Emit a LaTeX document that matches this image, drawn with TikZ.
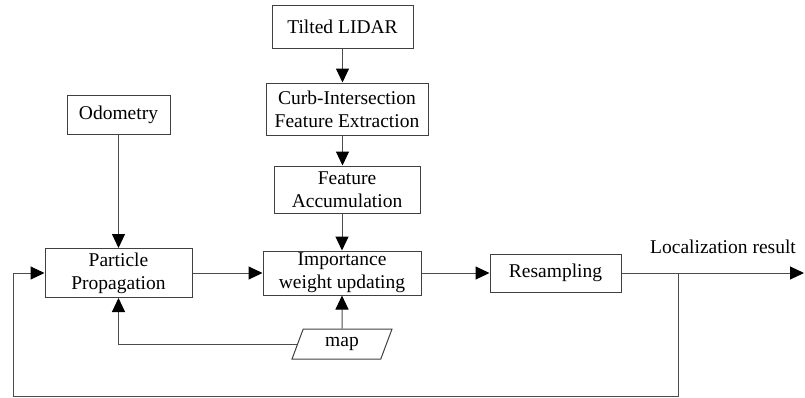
\documentclass[tikz,border=0pt]{standalone}
\usepackage{fontspec}
\setmainfont{Liberation Serif}
\usetikzlibrary{arrows.meta,shapes.geometric}
\begin{document}
\begin{tikzpicture}[x=1pt,y=-1pt,
  box/.style={draw=black!75,line width=1pt,align=center,inner sep=0pt,font=\fontsize{19.5}{23}\selectfont},
  conn/.style={draw=black!70,line width=1pt},
  arr/.style={conn,-{Triangle[length=14pt,width=13pt,black]}},
  lbl/.style={font=\fontsize{19.5}{23}\selectfont,inner sep=0pt}]
\useasboundingbox (0,0) rectangle (805,397);
\node[box,minimum width=141pt,minimum height=43pt] (lidar) at (342.5,26.5) {Tilted LIDAR};
\node[box,minimum width=162pt,minimum height=52pt] (curb) at (347,109) {Curb-Intersection\\Feature Extraction};
\node[box,minimum width=146pt,minimum height=47pt] (acc) at (347,189.5) {Feature\\Accumulation};
\node[box,minimum width=103pt,minimum height=39pt] (odo) at (118.5,114.5) {Odometry};
\node[box,minimum width=147pt,minimum height=49pt] (part) at (118.5,273) {Particle\\Propagation};
\node[box,minimum width=158pt,minimum height=44pt] (imp) at (342,273) {Importance\\weight updating};
\node[box,minimum width=131pt,minimum height=38pt] (res) at (555.5,273) {Resampling};
\node[box,trapezium,trapezium left angle=70,trapezium right angle=110,trapezium stretches=true,minimum width=100pt,minimum height=30pt] (map) at (342,344) {map};
\node[lbl] (loc) at (723,247) {Localization result};
\coordinate (j) at (678,273);
\coordinate (out) at (804,273);
\coordinate (fb) at (13,396);
\draw[arr] (lidar.south) -- (lidar.south |- curb.north);
\draw[arr] (acc.north -| lidar.south) ++(0,-31) -- (acc.north -| lidar.south);
\draw[arr] (acc.south -| imp.north) -- (imp.north);
\draw[arr] (odo.south) -- (part.north);
\draw[arr] (part.east) -- (imp.west);
\draw[arr] (imp.east) -- (res.west);
\draw[arr] (res.east) -- (out);
\draw[arr] (j) |- (fb) |- (part.west);
\draw[arr] (map.north) -- (imp.south);
\draw[arr] (map.west) -| (part.south);
\end{tikzpicture}
\end{document}
